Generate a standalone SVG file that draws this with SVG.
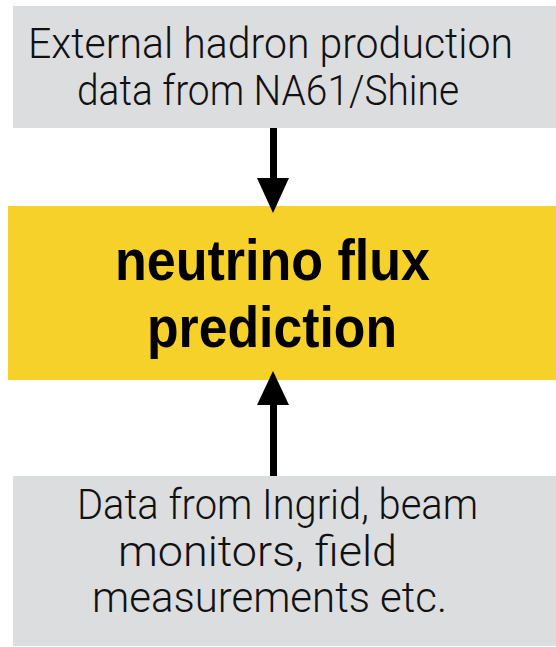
<svg xmlns="http://www.w3.org/2000/svg" width="556" height="647" viewBox="0 0 556 647">
<style>
.gray{fill:#dcdddf}
.yellow{fill:#f5d12a}
.lt{font-family:Roboto,"Liberation Sans",Arial,sans-serif;font-weight:300;font-size:43px;fill:#111}
.bd{font-family:"Liberation Sans",Arial,sans-serif;font-size:57px;font-weight:bold;fill:#000}
</style>
<rect width="556" height="647" fill="#fff"/>
<g id="external">
<rect class="gray" x="13" y="6" width="543" height="122"/>
<text class="lt" x="28" y="58" textLength="485" lengthAdjust="spacingAndGlyphs">External hadron production</text>
<text class="lt" x="77" y="105" textLength="382" lengthAdjust="spacingAndGlyphs">data from NA61/Shine</text>
</g>
<g id="flux">
<rect class="yellow" x="8" y="206" width="548" height="174"/>
<text class="bd" x="115" y="280" textLength="315" lengthAdjust="spacingAndGlyphs">neutrino flux</text>
<text class="bd" x="147" y="347" textLength="250" lengthAdjust="spacingAndGlyphs">prediction</text>
</g>
<g id="data">
<rect class="gray" x="13" y="476" width="543" height="170"/>
<text class="lt" x="77" y="519" textLength="401" lengthAdjust="spacingAndGlyphs">Data from Ingrid, beam</text>
<text class="lt" x="118" y="566" textLength="279" lengthAdjust="spacingAndGlyphs">monitors, field</text>
<text class="lt" x="92" y="612" textLength="355" lengthAdjust="spacingAndGlyphs">measurements etc.</text>
</g>
<g id="connectors">
<rect x="270" y="128" width="7" height="51" fill="#000"/>
<polygon points="257,178 289,178 273,213" fill="#000"/>
<rect x="270" y="404" width="7" height="72" fill="#000"/>
<polygon points="257,405 289,405 273,371" fill="#000"/>
</g>
</svg>
